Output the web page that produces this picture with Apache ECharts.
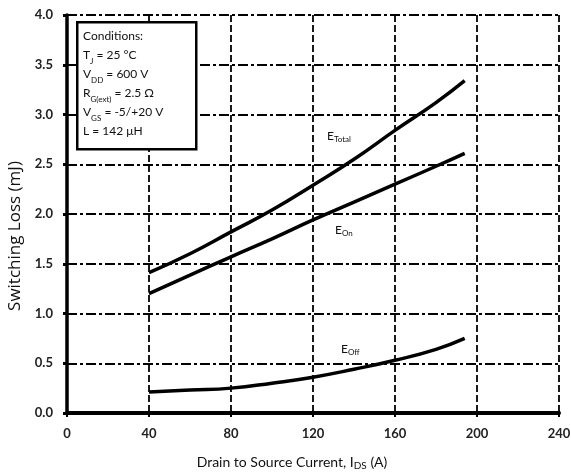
<!DOCTYPE html>
<html>
<head>
<meta charset="utf-8">
<script src="https://cdn.jsdelivr.net/npm/echarts@6/dist/echarts.min.js"></script>
<style>
  html, body { margin: 0; padding: 0; background: #fff; }
  #chart { width: 571px; height: 474px; }
</style>
</head>
<body>
<div id="chart"></div>
<script>
// drain current (A)
var current = [40, 60, 80, 100, 120, 140, 160, 180, 194];
// switching loss (mJ)
var eTotal = [1.41, 1.60, 1.82, 2.04, 2.29, 2.55, 2.84, 3.12, 3.34];
var eOn    = [1.20, 1.385, 1.57, 1.75, 1.94, 2.12, 2.30, 2.48, 2.61];
var eOff   = [0.21, 0.23, 0.25, 0.30, 0.36, 0.44, 0.53, 0.64, 0.75];
var xTicks = [0, 40, 80, 120, 160, 200, 240];
var yTicks = ['0.0','0.5','1.0','1.5','2.0','2.5','3.0','3.5','4.0'];

var font = 'Lato, "Open Sans", sans-serif';

function pairs(ys){
  var out = [];
  for (var i = 0; i < current.length; i++) out.push([current[i], ys[i]]);
  return out;
}
function curve(name, ys){
  return {
    name: name, type: 'line', smooth: true, symbol: 'none',
    data: pairs(ys),
    lineStyle: { color: '#000', width: 3.5 }
  };
}
function subLabel(txt, left, top){
  return {
    type: 'text', left: left, top: top, z: 101,
    style: { text: txt, fontFamily: font, fontSize: 12, fill: '#111',
      rich: { s: { fontFamily: font, fontSize: 8, fill: '#111', verticalAlign: 'bottom', padding: [6,0,0,0] } } }
  };
}

var chart = echarts.init(document.getElementById('chart'));
var option = {
  backgroundColor: '#fff',
  animation: false,
  grid: { left: 67, right: 12, top: 15, bottom: 61, containLabel: false, outerBoundsMode: 'none' },
  xAxis: {
    type: 'value', min: 0, max: 240, interval: 40,
    name: 'Drain to Source Current, I{s|DS} (A)',
    nameLocation: 'middle', nameGap: 40,
    nameTextStyle: { fontFamily: font, fontSize: 14, color: '#111', padding: [0, 42, 0, 0],
      rich: { s: { fontFamily: font, fontSize: 10, color: '#111', verticalAlign: 'bottom', padding: [8,0,0,0] } } },
    axisLine: { lineStyle: { color: '#000', width: 4 } },
    axisTick: { show: true, length: 4, lineStyle: { color: '#000', width: 2 } },
    axisLabel: { fontFamily: font, fontSize: 13, fontWeight: 'bold', color: '#222', margin: 14,
      formatter: function(v){ return xTicks.indexOf(v) >= 0 ? String(v) : ''; } },
    splitLine: { show: true, lineStyle: { color: '#000', width: 1.8, type: [7, 3] } }
  },
  yAxis: {
    type: 'value', min: 0, max: 4, interval: 0.5,
    name: 'Switching Loss (mJ)',
    nameLocation: 'middle', nameGap: 41,
    nameTextStyle: { fontFamily: '"Open Sans", Lato, sans-serif', fontSize: 17, color: '#111', padding: [0, 44, 0, 0] },
    axisLine: { show: true, lineStyle: { color: '#000', width: 3.5 } },
    axisTick: { show: true, length: 4, lineStyle: { color: '#000', width: 3 } },
    axisLabel: { fontFamily: font, fontSize: 13, fontWeight: 'bold', color: '#222', margin: 14,
      formatter: function(v){ return yTicks[Math.round(v * 2)]; } },
    splitLine: { show: true, lineStyle: { color: '#000', width: 2.2, type: [10, 3, 3, 3] } }
  },
  series: [
    curve('ETotal', eTotal),
    curve('EOn', eOn),
    curve('EOff', eOff)
  ],
  graphic: [
    {
      type: 'rect', left: 76, top: 21,
      shape: { width: 119, height: 127 },
      style: { fill: '#fff', stroke: '#000', lineWidth: 2.5 },
      z: 100
    },
    {
      type: 'text', left: 83, top: 27, z: 101,
      style: {
        text: 'Conditions:\nT{s|J} = 25 °C\nV{s|DD} = 600 V\nR{s|G(ext)} = 2.5 Ω\nV{s|GS} = -5/+20 V\nL = 142 μH',
        fontFamily: font, fontSize: 12, fill: '#111', lineHeight: 19,
        rich: { s: { fontFamily: font, fontSize: 8, fill: '#111', verticalAlign: 'bottom', padding: [6,0,0,0], lineHeight: 19 } }
      }
    },
    subLabel('E{s|Total}', 327, 130),
    subLabel('E{s|On}', 335, 224),
    subLabel('E{s|Off}', 341, 343)
  ]
};
chart.setOption(option);
</script>
</body>
</html>
